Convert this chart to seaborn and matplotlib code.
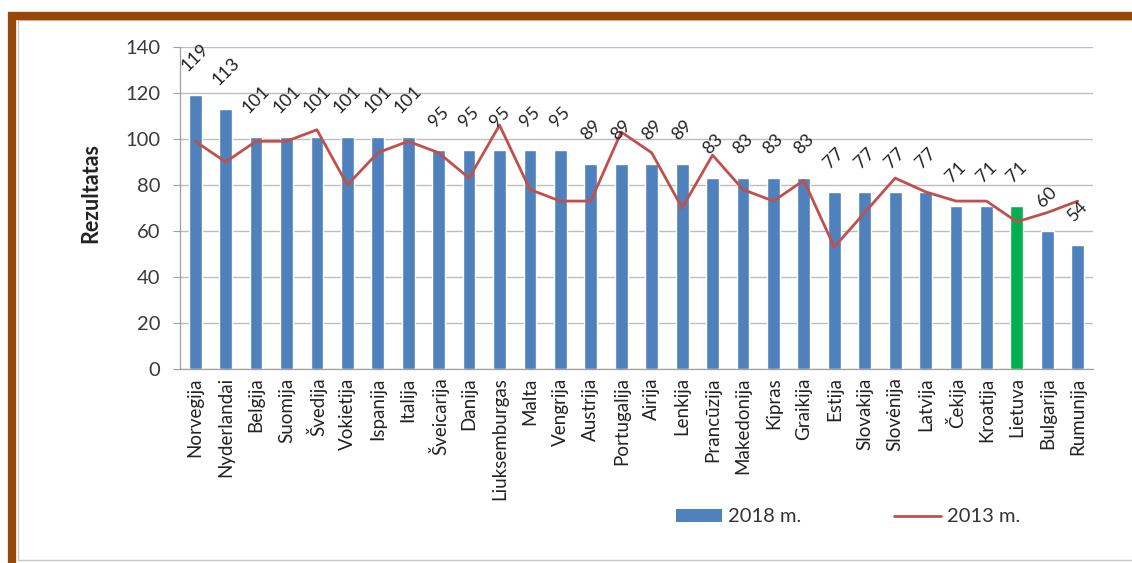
import numpy as np
import pandas as pd
import matplotlib
matplotlib.use("Agg")
import matplotlib.pyplot as plt
from matplotlib.patches import Patch, Rectangle
from matplotlib.lines import Line2D
import seaborn as sns

# Country names (Lithuanian)
countries = ["Norvegija", "Nyderlandai", "Belgija", "Suomija", "Švedija",
             "Vokietija", "Ispanija", "Italija", "Šveicarija", "Danija",
             "Liuksemburgas", "Malta", "Vengrija", "Austrija", "Portugalija",
             "Airija", "Lenkija", "Prancūzija", "Makedonija", "Kipras",
             "Graikija", "Estija", "Slovakija", "Slovėnija", "Latvija",
             "Čekija", "Kroatija", "Lietuva", "Bulgarija", "Rumunija"]

# 2018 results (bars)
values_2018 = [119, 113, 101, 101, 101, 101, 101, 101, 95, 95,
               95, 95, 95, 89, 89, 89, 89, 83, 83, 83,
               83, 77, 77, 77, 77, 71, 71, 71, 60, 54]

# 2013 results (line)
values_2013 = [99, 90, 99, 99, 104, 80, 94, 99, 94, 83,
               106, 78, 73, 73, 103, 94, 70, 93, 78, 73,
               82, 53, 68, 83, 77, 73, 73, 64, 68, 73]

highlight = "Lietuva"
legend_labels = ["2018 m.", "2013 m."]
y_label = "Rezultatas"

BLUE = "#4F81BD"
GREEN = "#00B050"
RED = "#C0504D"
TEXT = "#3a3a3a"

sns.set_theme(style="white")
plt.rcParams["font.family"] = ["Lato", "DejaVu Sans"]

df = pd.DataFrame({"country": countries, "y2018": values_2018, "y2013": values_2013})
palette = {c: (GREEN if c == highlight else BLUE) for c in countries}

fig = plt.figure(figsize=(11.32, 5.63), dpi=100)
ax = fig.add_axes([0.159, 0.3446, 0.8065, 0.572])

sns.barplot(data=df, x="country", y="y2018", hue="country", palette=palette,
            width=0.42, saturation=1, legend=False, ax=ax, zorder=2)
sns.lineplot(x=np.arange(len(countries)), y=df["y2013"], color=RED, lw=2.0,
             ax=ax, zorder=3)

# value labels above bars
for i, v in enumerate(values_2018):
    ax.annotate(str(v), (i, v), xytext=(0, 15), textcoords="offset points",
                rotation=45, ha="center", va="bottom", fontsize=13, color="#222222",
                zorder=4)

ax.set_ylim(0, 140)
ax.set_xlim(-0.5, len(countries) - 0.5)
ax.set_yticks(range(0, 141, 20))
ax.yaxis.grid(True, color="#BDBDBD", lw=1.0)
ax.set_axisbelow(True)
ax.tick_params(axis="y", labelsize=14.5, colors=TEXT, length=5, width=0.8,
               direction="out", left=True, pad=9)
ax.tick_params(axis="y", color="#A0A0A0")
ax.tick_params(axis="x", labelsize=13.5, labelcolor="#222222", length=0, pad=6)
plt.setp(ax.get_xticklabels(), rotation=90)
ax.set_xlabel("")
ax.set_ylabel(y_label, fontsize=15.5, fontweight="bold", color="#222222")
ax.yaxis.set_label_coords(-0.086, 0.545)
for s in ["top", "right"]:
    ax.spines[s].set_visible(False)
for s in ["left", "bottom"]:
    ax.spines[s].set_color("#A0A0A0")
    ax.spines[s].set_linewidth(0.9)

# legend
handles = [Patch(facecolor=BLUE, edgecolor="none"),
           Line2D([0], [0], color=RED, lw=2.0)]
fig.legend(handles, legend_labels, loc="center", bbox_to_anchor=(0.749, 0.082),
           ncol=2, frameon=False, fontsize=14.5, handlelength=2.3, handleheight=0.6,
           handletextpad=0.3, columnspacing=4.6, labelcolor="#333333")

# frame: thin inner grey border and brown outer border
fig.patches.append(Rectangle((18 / 1132, 3 / 563), 1.2, (563 - 23) / 563,
                             transform=fig.transFigure, fill=False,
                             edgecolor="#C8C8C8", lw=1.0, zorder=0))
fig.patches.append(Rectangle((12 / 1132, -0.2), 1.2, 1.2 - 15.5 / 563,
                             transform=fig.transFigure, fill=False,
                             edgecolor="#974806", lw=6.0, zorder=1))

fig.savefig("out.png", dpi=100, facecolor="white")
